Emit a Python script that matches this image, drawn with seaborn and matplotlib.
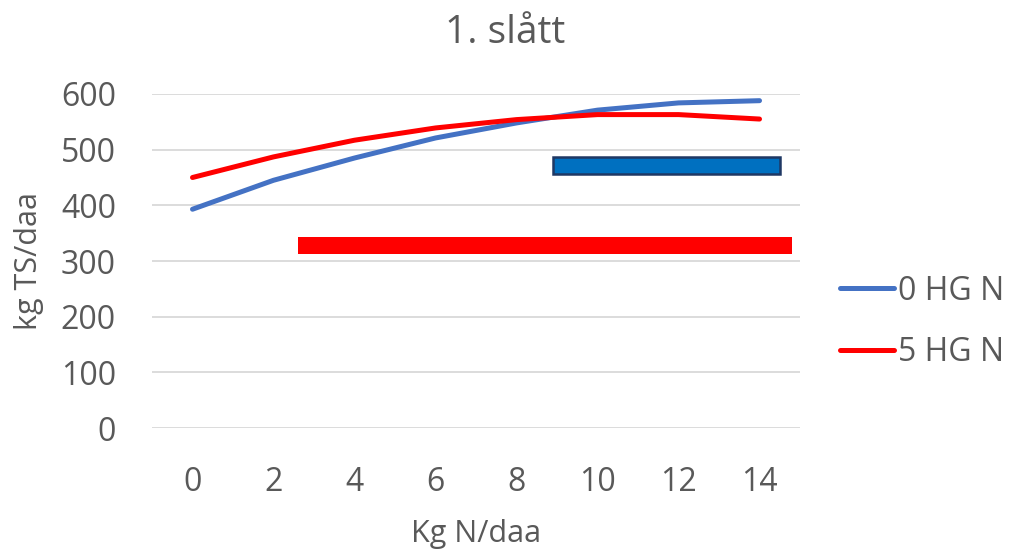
import pandas as pd
import seaborn as sb
import matplotlib.pyplot as plt
from matplotlib.patches import Rectangle

# data
kg_n = [0, 2, 4, 6, 8, 10, 12, 14]
hg0 = [393, 445, 485, 521, 548, 571, 584, 588]
hg5 = [450, 487, 517, 539, 554, 563, 563, 555]
series_names = ["0 HG N", "5 HG N"]

# range bars (x from/to, y low/high)
blue_bar_x = [8.9, 14.5]
blue_bar_y = [457, 486]
red_bar_x = [2.6, 14.8]
red_bar_y = [313, 344]

sb.set_style("white")
plt.rcParams['font.family'] = ['Open Sans', 'DejaVu Sans']
grey = "#595959"

df = pd.DataFrame({
    "Kg N/daa": kg_n * 2,
    "kg TS/daa": hg0 + hg5,
    "serie": [series_names[0]] * len(kg_n) + [series_names[1]] * len(kg_n),
})

fig = plt.figure(figsize=(10.1, 5.5), dpi=100)
ax = fig.add_axes([0.1505, 0.2218, 0.6416, 0.6073])

sb.lineplot(data=df, x="Kg N/daa", y="kg TS/daa", hue="serie",
            palette=["#4472C4", "#FF0000"], linewidth=3.6, ax=ax,
            solid_capstyle="round", zorder=3)

ax.add_patch(Rectangle((blue_bar_x[0], blue_bar_y[0]), blue_bar_x[1] - blue_bar_x[0],
                       blue_bar_y[1] - blue_bar_y[0], facecolor="#0070C0",
                       edgecolor="#1F3864", linewidth=1.8, zorder=4))
ax.add_patch(Rectangle((red_bar_x[0], red_bar_y[0]), red_bar_x[1] - red_bar_x[0],
                       red_bar_y[1] - red_bar_y[0], facecolor="#FF0000",
                       edgecolor="none", zorder=4))

ax.set_xlim(-1, 15)
ax.set_ylim(0, 600)
ax.set_xticks(kg_n)
ax.set_yticks(range(0, 601, 100))
ax.yaxis.grid(True, color="#d9d9d9", linewidth=1.3)
ax.set_axisbelow(True)
for s in ax.spines.values():
    s.set_visible(False)
ax.tick_params(axis="both", length=0, labelsize=23, colors=grey)
ax.tick_params(axis="y", pad=26)
ax.tick_params(axis="x", pad=27)

ax.set_xlabel("Kg N/daa", fontsize=22, color=grey, labelpad=15)
ax.set_ylabel("kg TS/daa", fontsize=22, color=grey, labelpad=12)
# title is centred on the whole chart, not the plot area
ax.set_title("1. slått", fontsize=28, color=grey, pad=37, x=0.545)

leg = ax.legend(loc="center left", bbox_to_anchor=(840 / 1010, 1 - 322 / 550),
                bbox_transform=fig.transFigure, frameon=False, borderpad=0,
                borderaxespad=0, fontsize=23, handlelength=1.7, handletextpad=0.1,
                labelspacing=0.9, labelcolor=grey)
for line in leg.get_lines():
    line.set_linewidth(3.6)
    line.set_solid_capstyle("round")

plt.savefig("out.png", dpi=100)
